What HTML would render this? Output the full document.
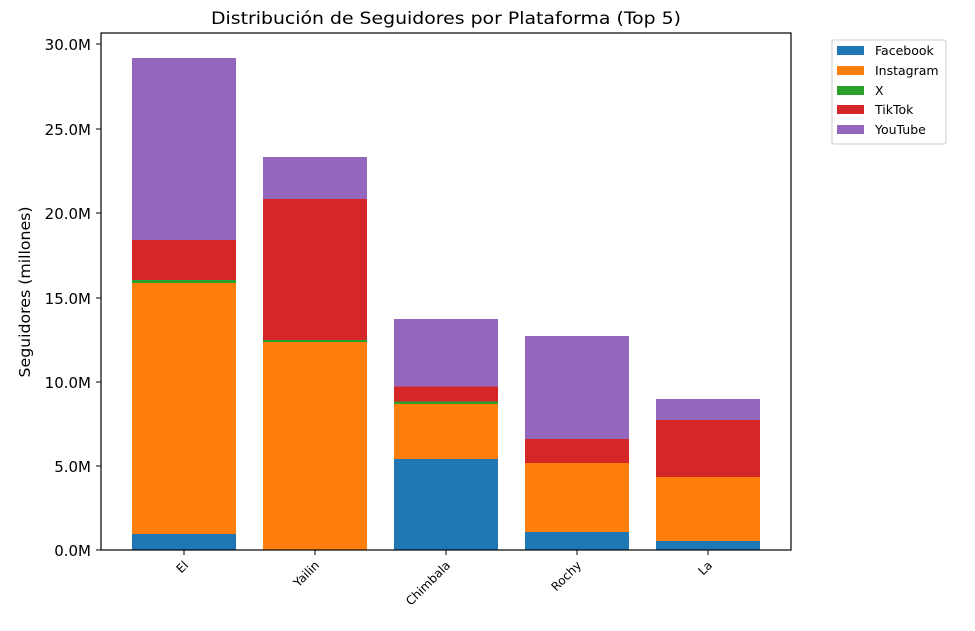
<!DOCTYPE html>
<html><head><meta charset="utf-8"><style>
html,body{margin:0;padding:0;background:#fff;}
svg{display:block;font-family:"DejaVu Sans","Liberation Sans",sans-serif;}
</style></head><body>
<svg width="975" height="631" viewBox="0 0 975 631" xmlns="http://www.w3.org/2000/svg">
<rect width="975" height="631" fill="#fff"/>
<text x="446" y="24" font-size="17" text-anchor="middle" textLength="470" lengthAdjust="spacingAndGlyphs" fill="#000">Distribución de Seguidores por Plataforma (Top 5)</text>
<g>
<rect x="132" y="534" width="104" height="16" fill="#1f77b4"/>
<rect x="132" y="283" width="104" height="251" fill="#ff7f0e"/>
<rect x="132" y="280" width="104" height="3" fill="#2ca02c"/>
<rect x="132" y="240" width="104" height="40" fill="#d62728"/>
<rect x="132" y="58" width="104" height="182" fill="#9467bd"/>
</g>
<g>
<rect x="263" y="342" width="104" height="208" fill="#ff7f0e"/>
<rect x="263" y="340" width="104" height="2" fill="#2ca02c"/>
<rect x="263" y="199" width="104" height="141" fill="#d62728"/>
<rect x="263" y="157" width="104" height="42" fill="#9467bd"/>
</g>
<g>
<rect x="394" y="459" width="104" height="91" fill="#1f77b4"/>
<rect x="394" y="404" width="104" height="55" fill="#ff7f0e"/>
<rect x="394" y="401.5" width="104" height="2.5" fill="#2ca02c"/>
<rect x="394" y="386.5" width="104" height="15" fill="#d62728"/>
<rect x="394" y="319" width="104" height="67.5" fill="#9467bd"/>
</g>
<g>
<rect x="525" y="532" width="104" height="18" fill="#1f77b4"/>
<rect x="525" y="463" width="104" height="69" fill="#ff7f0e"/>
<rect x="525" y="439" width="104" height="24" fill="#d62728"/>
<rect x="525" y="336" width="104" height="103" fill="#9467bd"/>
</g>
<g>
<rect x="656" y="541" width="104" height="9" fill="#1f77b4"/>
<rect x="656" y="477" width="104" height="64" fill="#ff7f0e"/>
<rect x="656" y="420" width="104" height="57" fill="#d62728"/>
<rect x="656" y="399" width="104" height="21" fill="#9467bd"/>
</g>
<rect x="101" y="33" width="690" height="517" fill="none" stroke="#000" stroke-width="1.2"/>
<g stroke="#000" stroke-width="1">
<line x1="96" y1="550" x2="101" y2="550"/><line x1="96" y1="466" x2="101" y2="466"/>
<line x1="96" y1="382" x2="101" y2="382"/><line x1="96" y1="298" x2="101" y2="298"/>
<line x1="96" y1="213" x2="101" y2="213"/><line x1="96" y1="129" x2="101" y2="129"/>
<line x1="96" y1="44" x2="101" y2="44"/>
<line x1="184" y1="550" x2="184" y2="555"/><line x1="315" y1="550" x2="315" y2="555"/>
<line x1="446" y1="550" x2="446" y2="555"/><line x1="577" y1="550" x2="577" y2="555"/>
<line x1="708" y1="550" x2="708" y2="555"/>
</g>
<g font-size="15" text-anchor="end" fill="#000">
<text x="91" y="556">0.0M</text><text x="91" y="472">5.0M</text>
<text x="91" y="388">10.0M</text><text x="91" y="304">15.0M</text>
<text x="91" y="219">20.0M</text><text x="91" y="135">25.0M</text>
<text x="91" y="50">30.0M</text>
</g>
<text transform="translate(30,292) rotate(-90)" font-size="15" text-anchor="middle" textLength="171" lengthAdjust="spacingAndGlyphs">Seguidores (millones)</text>
<g font-size="12" text-anchor="end" fill="#000">
<text transform="translate(189,566) rotate(-45)">El</text>
<text transform="translate(320,566) rotate(-45)">Yailin</text>
<text transform="translate(451,566) rotate(-45)">Chimbala</text>
<text transform="translate(582,566) rotate(-45)">Rochy</text>
<text transform="translate(713,566) rotate(-45)">La</text>
</g>
<rect x="832" y="40" width="114" height="104" rx="2" fill="#fff" stroke="#ccc"/>
<rect x="837" y="46" width="27" height="9" fill="#1f77b4"/>
<rect x="837" y="66" width="27" height="9" fill="#ff7f0e"/>
<rect x="837" y="86" width="27" height="9" fill="#2ca02c"/>
<rect x="837" y="105" width="27" height="9" fill="#d62728"/>
<rect x="837" y="125" width="27" height="9" fill="#9467bd"/>
<g font-size="12.5" fill="#000">
<text x="875" y="55">Facebook</text><text x="875" y="75">Instagram</text>
<text x="875" y="95">X</text><text x="875" y="114">TikTok</text>
<text x="875" y="134">YouTube</text>
</g>
</svg>
</body></html>
